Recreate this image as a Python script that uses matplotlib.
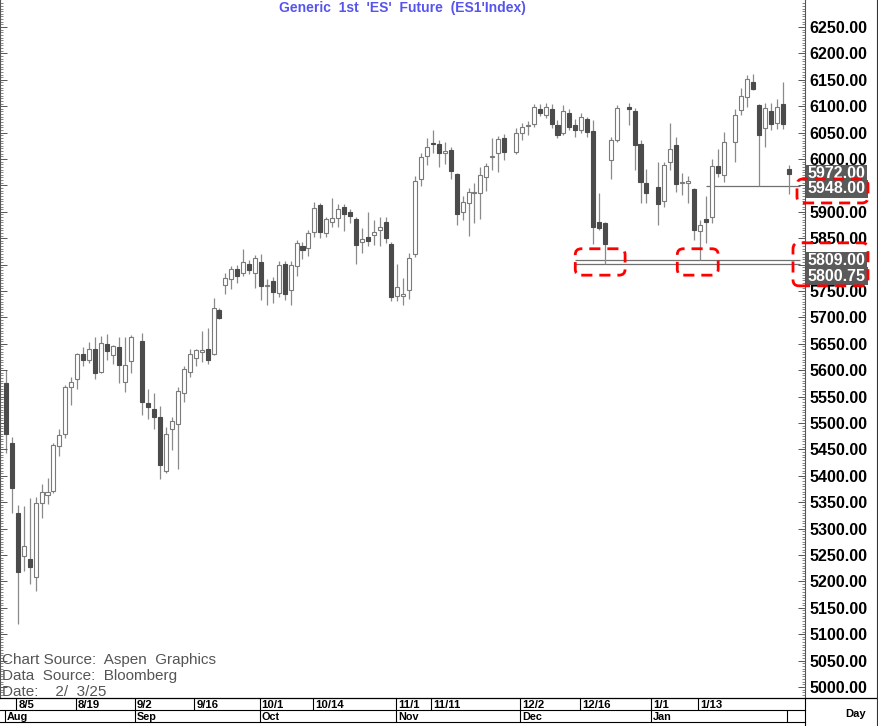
import numpy as np
import pandas as pd
import matplotlib
matplotlib.use("Agg")
import matplotlib.pyplot as plt
from matplotlib.patches import FancyBboxPatch
from matplotlib.lines import Line2D

plt.rcParams['font.family'] = ['Liberation Sans', 'DejaVu Sans']
NARROW = ['Liberation Sans Narrow', 'Liberation Sans', 'DejaVu Sans']

# ---------- daily OHLC (ES1 continuous) ----------
dates = ["2024-08-01", "2024-08-02", "2024-08-05", "2024-08-06", "2024-08-07", "2024-08-08", "2024-08-09",
         "2024-08-12", "2024-08-13", "2024-08-14", "2024-08-15", "2024-08-16", "2024-08-19", "2024-08-20",
         "2024-08-21", "2024-08-22", "2024-08-23", "2024-08-26", "2024-08-27", "2024-08-28", "2024-08-29",
         "2024-08-30", "2024-09-03", "2024-09-04", "2024-09-05", "2024-09-06", "2024-09-09", "2024-09-10",
         "2024-09-11", "2024-09-12", "2024-09-13", "2024-09-16", "2024-09-17", "2024-09-18", "2024-09-19",
         "2024-09-20", "2024-09-23", "2024-09-24", "2024-09-25", "2024-09-26", "2024-09-27", "2024-09-30",
         "2024-10-01", "2024-10-02", "2024-10-03", "2024-10-04", "2024-10-07", "2024-10-08", "2024-10-09",
         "2024-10-10", "2024-10-11", "2024-10-14", "2024-10-15", "2024-10-16", "2024-10-17", "2024-10-18",
         "2024-10-21", "2024-10-22", "2024-10-23", "2024-10-24", "2024-10-25", "2024-10-28", "2024-10-29",
         "2024-10-30", "2024-10-31", "2024-11-01", "2024-11-04", "2024-11-05", "2024-11-06", "2024-11-07",
         "2024-11-08", "2024-11-11", "2024-11-12", "2024-11-13", "2024-11-14", "2024-11-15", "2024-11-18",
         "2024-11-19", "2024-11-20", "2024-11-21", "2024-11-22", "2024-11-25", "2024-11-26", "2024-11-27",
         "2024-11-29", "2024-12-02", "2024-12-03", "2024-12-04", "2024-12-05", "2024-12-06", "2024-12-09",
         "2024-12-10", "2024-12-11", "2024-12-12", "2024-12-13", "2024-12-16", "2024-12-17", "2024-12-18",
         "2024-12-19", "2024-12-20", "2024-12-23", "2024-12-24", "2024-12-26", "2024-12-27", "2024-12-30",
         "2024-12-31", "2025-01-02", "2025-01-03", "2025-01-06", "2025-01-07", "2025-01-08", "2025-01-09",
         "2025-01-10", "2025-01-13", "2025-01-14", "2025-01-15", "2025-01-16", "2025-01-17", "2025-01-21",
         "2025-01-22", "2025-01-23", "2025-01-24", "2025-01-27", "2025-01-28", "2025-01-29", "2025-01-30",
         "2025-01-31", "2025-02-03"]

opens = [5575, 5463, 5330, 5249, 5242, 5208, 5348, 5363, 5372, 5456, 5480, 5568, 5583, 5630,
         5619, 5641, 5597, 5650, 5628, 5643, 5578, 5618, 5656, 5538, 5527, 5512, 5410, 5488,
         5498, 5556, 5597, 5624, 5634, 5640, 5630, 5714, 5761, 5772, 5791, 5784, 5802, 5784,
         5805, 5759, 5769, 5746, 5801, 5751, 5797, 5835, 5831, 5862, 5913, 5860, 5881, 5888,
         5910, 5900, 5886, 5842, 5853, 5856, 5866, 5881, 5839, 5740, 5741, 5752, 5820, 5962,
         6006, 6031, 6028, 6011, 6017, 5972, 5899, 5917, 5936, 5936, 5965, 6004, 6012, 6039,
         6014, 6050, 6062, 6066, 6094, 6083, 6095, 6064, 6050, 6087, 6064, 6054, 6076, 6053,
         5880, 5879, 5999, 6036, 6098, 6091, 6028, 5954, 5947, 5920, 5994, 6026, 5954, 5955,
         5943, 5864, 5886, 5891, 5987, 5970, 6033, 6092, 6118, 6146, 6102, 6058, 6090, 6068,
         6105, 5982]
highs = [5600, 5473, 5345, 5343, 5358, 5360, 5384, 5396, 5462, 5488, 5572, 5587, 5632, 5643,
         5654, 5663, 5665, 5668, 5648, 5662, 5663, 5667, 5670, 5564, 5556, 5532, 5492, 5511,
         5568, 5608, 5640, 5641, 5674, 5680, 5736, 5717, 5785, 5797, 5799, 5829, 5809, 5818,
         5820, 5772, 5776, 5807, 5807, 5807, 5847, 5843, 5866, 5919, 5917, 5891, 5926, 5914,
         5915, 5905, 5891, 5869, 5900, 5884, 5891, 5891, 5843, 5802, 5774, 5822, 5968, 6012,
         6039, 6054, 6036, 6033, 6023, 5974, 5930, 5946, 5955, 5984, 5993, 6039, 6044, 6047,
         6058, 6068, 6072, 6105, 6105, 6107, 6105, 6074, 6102, 6094, 6075, 6088, 6080, 6074,
         5936, 5881, 6042, 6102, 6107, 6096, 6036, 5982, 5995, 5995, 6068, 6042, 5973, 5967,
         5945, 5884, 5930, 6000, 6018, 6052, 6094, 6134, 6159, 6161, 6104, 6107, 6107, 6113,
         6146, 5989]
lows = [5444, 5330, 5119, 5220, 5196, 5182, 5320, 5347, 5367, 5438, 5471, 5534, 5564, 5608,
        5613, 5583, 5594, 5619, 5612, 5575, 5559, 5594, 5515, 5507, 5489, 5393, 5406, 5449,
        5412, 5540, 5587, 5608, 5616, 5612, 5629, 5697, 5744, 5753, 5766, 5778, 5783, 5755,
        5733, 5724, 5727, 5739, 5733, 5724, 5778, 5810, 5816, 5853, 5850, 5853, 5871, 5872,
        5864, 5878, 5801, 5822, 5835, 5837, 5835, 5840, 5732, 5732, 5724, 5734, 5815, 5949,
        5989, 6011, 5985, 5990, 5963, 5875, 5884, 5854, 5878, 5886, 5940, 5980, 5976, 5998,
        6010, 6036, 6045, 6061, 6081, 6077, 6058, 6039, 6045, 6055, 6041, 6050, 6042, 5839,
        5866, 5800.75, 5963, 6033, 6064, 5980, 5917, 5916, 5875, 5910, 5979, 5938, 5932, 5916,
        5847, 5809, 5841, 5878, 5965, 5957, 5995, 6083, 6099, 6131, 5948, 6022, 6054, 6056,
        6056, 5934]
closes = [5480, 5376, 5217, 5267, 5227, 5349, 5369, 5370, 5458, 5477, 5568, 5578, 5630, 5619,
          5640, 5594, 5652, 5637, 5646, 5610, 5610, 5662, 5540, 5530, 5512, 5420, 5479, 5504,
          5561, 5602, 5631, 5638, 5638, 5620, 5717, 5698, 5775, 5791, 5778, 5804, 5790, 5812,
          5760, 5761, 5749, 5799, 5744, 5799, 5841, 5828, 5859, 5908, 5862, 5886, 5888, 5905,
          5895, 5892, 5837, 5848, 5845, 5862, 5871, 5850, 5738, 5758, 5744, 5812, 5959, 6003,
          6023, 6029, 6011, 6015, 5978, 5895, 5919, 5938, 5938, 5970, 5987, 6005, 6037, 6014,
          6050, 6060, 6063, 6099, 6088, 6098, 6066, 6045, 6091, 6060, 6054, 6079, 6052, 5872,
          5869, 5839, 6036, 6096, 6094, 6026, 5957, 5935, 5915, 5989, 6018, 5953, 5957, 5958,
          5866, 5875, 5881, 5987, 5974, 6033, 6083, 6119, 6151, 6132, 6045, 6096, 6066, 6098,
          6066, 5972]

# marked prices: last, recent low, the two double-bottom lows
last_px = 5972.00
level_hi = 5948.00
level_lows = [5809.00, 5800.75]
low_days = ["2024-12-20", "2025-01-13"]

day_ticks = ["2024-08-05", "2024-08-19", "2024-09-02", "2024-09-16", "2024-10-01", "2024-10-14",
             "2024-11-01", "2024-11-11", "2024-12-02", "2024-12-16", "2025-01-01", "2025-01-13"]
day_labels = ["8/5", "8/19", "9/2", "9/16", "10/1", "10/14", "11/1", "11/11", "12/2", "12/16", "1/1", "1/13"]
month_ticks = ["2024-08-01", "2024-09-02", "2024-10-01", "2024-11-01", "2024-12-02", "2025-01-01", "2025-02-03"]
month_labels = ["Aug", "Sep", "Oct", "Nov", "Dec", "Jan", ""]

W, H = 879, 726
PLOT_R, PLOT_B = 805, 698          # pixel edges of the price pane
DARK, WICK, EDGE = "#4b4b4b", "#8a8a8a", "#7a7a7a"

slots = pd.bdate_range("2024-08-01", "2025-02-03")     # one slot per weekday, holidays left empty
x = slots.get_indexer(pd.to_datetime(dates)).astype(float)
o, h, l, c = map(np.asarray, (opens, highs, lows, closes))
step = 5.93                                              # px per slot
x0 = -6 / step
x1 = x0 + PLOT_R / step

fig = plt.figure(figsize=(W / 100, H / 100), dpi=100)
ax = fig.add_axes([0, (H - PLOT_B) / H, PLOT_R / W, PLOT_B / H])
ax.set_xlim(x0, x1)
ax.set_ylim(6250 - (PLOT_B - 27) / 0.528, 6250 + 27 / 0.528)

# candles
up = c >= o
lo_b = np.minimum(o, c)
hgt = np.maximum(np.abs(c - o), 1.5)
ax.vlines(x, l, h, color=WICK, lw=0.9, zorder=1)
ax.bar(x[up], hgt[up], bottom=lo_b[up], width=0.68, facecolor="white", edgecolor=EDGE, lw=0.8, zorder=2)
ax.bar(x[~up], hgt[~up], bottom=lo_b[~up], width=0.68, facecolor=DARK, edgecolor=DARK, lw=0.8, zorder=2)

# support / reference lines
s14 = slots.get_loc(pd.Timestamp("2025-01-14"))
s13 = slots.get_loc(pd.Timestamp("2024-12-13"))
ax.hlines(level_hi, s14, x1 - 0.8, color="#707070", lw=0.9, zorder=0)
ax.hlines(level_lows, s13, x1 - 0.8, color="#707070", lw=0.9, zorder=0)

# axes cosmetics
for s in ["top", "bottom"]:
    ax.spines[s].set_visible(False)
for s in ["left", "right"]:
    ax.spines[s].set_color("#555555"); ax.spines[s].set_linewidth(0.8)
ax.set_xticks([])
yt = np.arange(5000, 6300, 50)
ax.set_yticks(yt)
ax.set_yticklabels(["" if v in (5950, 5800) else f"{v:.2f}" for v in yt])
ax.set_yticks(np.arange(4980, 6300, 5), minor=True)
ax.yaxis.set_ticks_position("both")
ax.tick_params(axis="y", which="both", direction="in", labelleft=False, labelright=True,
               colors="#555555", labelcolor="black", labelsize=11.5, pad=3)
ax.tick_params(axis="y", which="major", length=5, width=0.7)
ax.tick_params(axis="y", which="minor", length=2.5, width=0.5)
for t in ax.get_yticklabels():
    t.set_fontweight("bold")

# highlighted price labels on the axis
for val, dy in [(last_px, 0), (level_hi, -2.5), (level_lows[0], -1), (level_lows[1], -12)]:
    ax.annotate(f"{val:.2f}", xy=(1, val), xycoords=("axes fraction", "data"),
                xytext=(3, dy), textcoords="offset pixels", ha="left", va="center",
                fontsize=11.5, fontweight="bold", color="white",
                bbox=dict(boxstyle="square,pad=0.1", fc="#5a5a5a", ec="none"), zorder=5)

fig.canvas.draw()


def red_box(x_lo, y_lo, x_hi, y_hi):
    fig.patches.append(FancyBboxPatch((x_lo, y_lo), x_hi - x_lo, y_hi - y_lo,
                                      boxstyle="round,pad=0,rounding_size=6", transform=None,
                                      fc="none", ec="red", lw=2, ls=(0, (4, 2.5)), zorder=10))


# red dashed boxes around the two lows
for d, dl, dr in zip(low_days, [-5.0, -3.8], [3.4, 3.1]):
    s = slots.get_loc(pd.Timestamp(d))
    (xa, ya) = ax.transData.transform((s + dl, 5780))
    (xb, yb) = ax.transData.transform((s + dr, 5830))
    red_box(xa, ya, xb, yb)

# red dashed boxes around the axis labels
yh = ax.transData.transform((0, level_hi))[1]
red_box(797, yh - 16.5, 868, yh + 7.5)
yl = ax.transData.transform((0, level_lows[0]))[1]
red_box(793, yl - 26, 868, yl + 17)

# title
fig.text(402 / W, 1 - 8 / H, "Generic  1st  'ES'  Future  (ES1'Index)", ha="center", va="center",
         color="#5555ee", fontsize=10, fontweight="bold")

# source notes
for k, txt in enumerate(["Chart Source:  Aspen  Graphics", "Data  Source:  Bloomberg", "Date:    2/  3/25"]):
    fig.text(2 / W, 1 - (660 + 16 * k) / H, txt, ha="left", va="center", color="#555555",
             fontsize=11, family=NARROW)

# date strip
bx = fig.add_axes([0, 0, PLOT_R / W, (H - PLOT_B) / H])
bx.set_xlim(x0, x1); bx.set_ylim(H - PLOT_B, 0)
bx.axis("off")
dpos = slots.get_indexer(pd.to_datetime(day_ticks))
mpos = slots.get_indexer(pd.to_datetime(month_ticks))
bx.vlines(dpos - 0.25, 0, 12, color="black", lw=0.8)
bx.vlines(mpos - 0.25, 12, 24, color="black", lw=0.8)
for p, t in zip(dpos, day_labels):
    bx.text(p + 0.1, 6.5, t, ha="left", va="center", fontsize=8.2, fontweight="bold", family=NARROW)
for p, t in zip(mpos, month_labels):
    bx.text(p + 0.1, 18.5, t, ha="left", va="center", fontsize=7.8, fontweight="bold", family=NARROW)

fig.add_artist(Line2D([0, 1], [1 - PLOT_B / H] * 2, color="black", lw=0.9))
fig.add_artist(Line2D([0, PLOT_R / W], [1 - 710 / H] * 2, color="black", lw=0.8))
fig.add_artist(Line2D([0, PLOT_R / W], [1 - 722 / H] * 2, color="black", lw=0.8))
fig.add_artist(Line2D([PLOT_R / W] * 2, [0, 1 - PLOT_B / H], color="black", lw=0.8))
fig.add_artist(Line2D([877 / W] * 2, [0, 1], color="#333333", lw=0.8))
fig.text(856 / W, 1 - 714 / H, "Day", ha="center", va="center", fontsize=8, fontweight="bold",
         family=NARROW)

fig.savefig("out.png", dpi=100)
